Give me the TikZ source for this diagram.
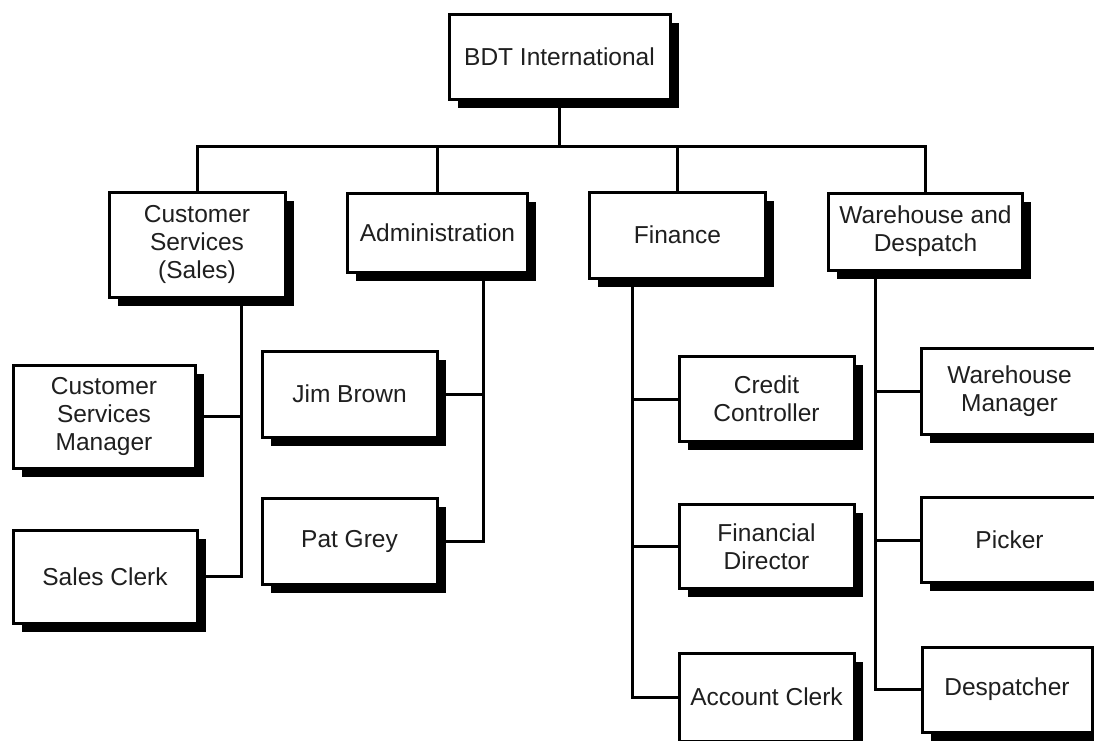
\documentclass[tikz,border=0pt]{standalone}
\usepackage{fontspec}
\setmainfont{Liberation Sans}
\usetikzlibrary{shadows}
\tikzset{
  orgbox/.style={draw=black, fill=white, line width=3pt, rectangle, inner sep=0pt,
    align=center, text=black!88, font=\fontsize{24.5}{28}\selectfont,
    drop shadow={shadow xshift=8.5pt, shadow yshift=-8.5pt, fill=black, opacity=1}},
  link/.style={line width=3pt, draw=black}
}
\begin{document}
\begin{tikzpicture}[x=1pt,y=-1pt]
\useasboundingbox (0,0) rectangle (1094,740);
\clip (0,0) rectangle (1094,740);
\fill[white] (0,0) rectangle (1094,740);
% top
\node[orgbox, minimum width=221pt, minimum height=85pt] (bdt) at (559.5,56.5) {BDT International};
% level 1
\node[orgbox, minimum width=176pt, minimum height=105pt] (cs) at (197,244.5) {Customer\\Services\\(Sales)};
\node[orgbox, minimum width=180pt, minimum height=79pt] (adm) at (437.5,232.5) {Administration};
\node[orgbox, minimum width=176pt, minimum height=86pt] (fin) at (677.5,235) {Finance};
\node[orgbox, minimum width=194pt, minimum height=77pt] (wh) at (925.5,231.5) {Warehouse and\\Despatch};
% customer services
\node[orgbox, minimum width=182pt, minimum height=103pt] (csm) at (104,416.5) {Customer\\Services\\Manager};
\node[orgbox, minimum width=184pt, minimum height=93pt] (sc) at (105,576.5) {Sales Clerk};
% administration
\node[orgbox, minimum width=175pt, minimum height=86pt] (jb) at (349.5,394) {Jim Brown};
\node[orgbox, minimum width=175pt, minimum height=86pt] (pg) at (349.5,541) {Pat Grey};
% finance
\node[orgbox, minimum width=175pt, minimum height=85pt] (cc) at (766.5,399) {Credit\\Controller};
\node[orgbox, minimum width=175pt, minimum height=84pt] (fd) at (766.5,546.5) {Financial\\Director};
\node[orgbox, minimum width=175pt, minimum height=88pt] (ac) at (766.5,697) {Account Clerk};
% warehouse
\node[orgbox, minimum width=177pt, minimum height=86pt] (wm) at (1009.5,391.5) {Warehouse\\Manager};
\node[orgbox, minimum width=177pt, minimum height=85pt] (pk) at (1009.5,540) {Picker};
\node[orgbox, minimum width=170pt, minimum height=85pt] (dp) at (1007,689.5) {Despatcher};
% connector coordinates
\coordinate (bar) at (0,146);
\coordinate (csx) at (241,0);
\coordinate (admx) at (483,0);
\coordinate (finx) at (632,0);
\coordinate (whx) at (875,0);
\draw[link] (bdt.south) -- (bdt.south |- bar);
\draw[link] (cs.north) -- (cs.north |- bar) -- (wh.north |- bar) -- (wh.north);
\draw[link] (adm.north) -- (adm.north |- bar);
\draw[link] (fin.north) -- (fin.north |- bar);
\draw[link] (cs.south -| csx) |- (sc.east);
\draw[link] (csm.east) -- (csm.east -| csx);
\draw[link] (adm.south -| admx) |- (pg.east);
\draw[link] (jb.east) -- (jb.east -| admx);
\draw[link] (fin.south -| finx) |- (ac.west);
\draw[link] (cc.west) -- (cc.west -| finx);
\draw[link] (fd.west) -- (fd.west -| finx);
\draw[link] (wh.south -| whx) |- (dp.west);
\draw[link] (wm.west) -- (wm.west -| whx);
\draw[link] (pk.west) -- (pk.west -| whx);
\end{tikzpicture}
\end{document}
